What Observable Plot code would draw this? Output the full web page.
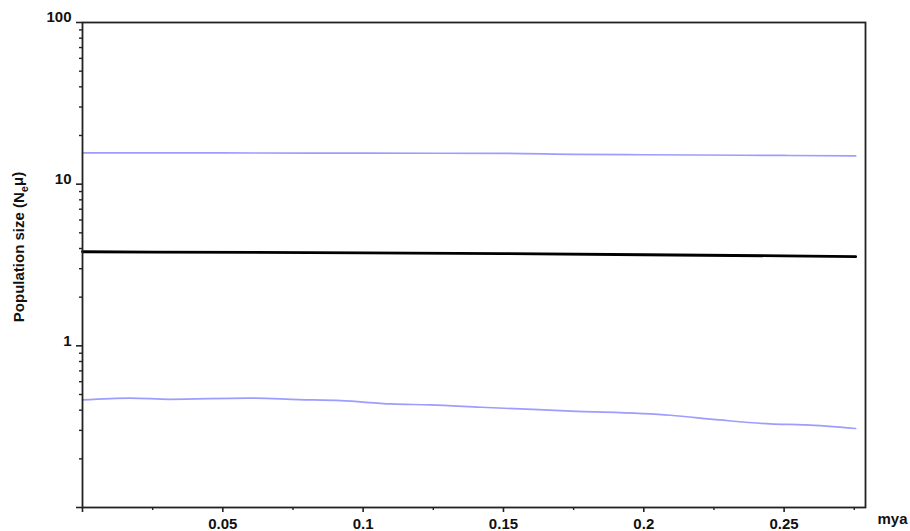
<!DOCTYPE html>
<html>
<head>
<meta charset="utf-8">
<script src="https://cdn.jsdelivr.net/npm/d3@7"></script>
<script src="https://cdn.jsdelivr.net/npm/@observablehq/plot@0.6"></script>
<style>
  html, body { margin: 0; padding: 0; background: #fff; }
  #chart svg { display: block; }
  #chart svg text { font-family: 'Liberation Sans', Arial, sans-serif !important; font-size: 15px !important; font-weight: bold !important; fill: #111; }
  #chart svg text tspan.sub { font-size: 11px !important; }
</style>
</head>
<body>
<div id="chart"></div>
<script>
// Upper 95% bound (blue)
const upperX = [0, 0.05, 0.1, 0.15, 0.175, 0.2, 0.25, 0.2755];
const upperY = [15.6, 15.6, 15.55, 15.5, 15.3, 15.2, 15.05, 14.95];
// Median (black)
const medianX = [0, 0.025, 0.1, 0.15, 0.2, 0.25, 0.2755];
const medianY = [3.82, 3.8, 3.76, 3.72, 3.66, 3.6, 3.56];
// Lower 95% bound (blue)
const lowerX = [0, 0.017, 0.031, 0.059, 0.077, 0.092, 0.11, 0.124, 0.142, 0.174, 0.2095, 0.227, 0.245, 0.2575, 0.2755];
const lowerY = [0.463, 0.475, 0.467, 0.475, 0.465, 0.458, 0.437, 0.431, 0.417, 0.395, 0.372, 0.348, 0.329, 0.324, 0.308];

// Tick values
const xMajorTicks = [0, 0.05, 0.1, 0.15, 0.2, 0.25];
const xMinorTicks = [0.025, 0.075, 0.125, 0.175, 0.225, 0.275];
const yMajorTicks = [0.1, 1, 10, 100];
const yLabelTicks = [1, 10, 100];
const yMinorMultipliers = [2, 3, 4, 5, 6, 7, 8, 9];
const yMinorTicks = [0.1, 1, 10].flatMap(d => yMinorMultipliers.map(m => +(d * m).toPrecision(3)));

const blue = "#9d9dff";
const axisColor = "#222";

const series = (xs, ys) => ys.map((v, i) => ({x: xs[i], y: v}));

const plot = Plot.plot({
  width: 910,
  height: 531,
  marginLeft: 82,
  marginRight: 45,
  marginTop: 22,
  marginBottom: 24,
  style: {background: "#fff"},
  x: {domain: [0, 0.279], axis: null},
  y: {type: "log", domain: [0.1, 100], axis: null},
  marks: [
    Plot.line(series(upperX, upperY), {x: "x", y: "y", stroke: blue, strokeWidth: 1.7, curve: "monotone-x"}),
    Plot.line(series(lowerX, lowerY), {x: "x", y: "y", stroke: blue, strokeWidth: 1.7, curve: "monotone-x"}),
    Plot.line(series(medianX, medianY), {x: "x", y: "y", stroke: "#000", strokeWidth: 2.8}),
    Plot.frame({stroke: axisColor, strokeWidth: 1.8}),
    // y ticks
    Plot.axisY(yMajorTicks, {anchor: "left", tickSize: 6, stroke: axisColor, strokeWidth: 1.6, text: null, label: null}),
    Plot.axisY(yMinorTicks, {anchor: "left", tickSize: 3, stroke: axisColor, strokeWidth: 1.4, text: null, label: null}),
    // y labels (slightly raised, as in the original)
    Plot.axisY(yLabelTicks, {anchor: "left", tickSize: 0, tickPadding: 11, dy: -5, tickFormat: d => String(d), label: null}),
    // x ticks and labels
    Plot.axisX(xMajorTicks, {anchor: "bottom", tickSize: 5, tickPadding: 6, stroke: axisColor, strokeWidth: 1.6,
      tickFormat: d => d === 0 ? "" : String(d), label: null}),
    Plot.axisX(xMinorTicks, {anchor: "bottom", tickSize: 3, stroke: axisColor, strokeWidth: 1.4,
      text: null, label: null}),
    Plot.text(["mya"], {frameAnchor: "bottom-right", dx: 27, dy: 16, textAnchor: "middle"}),
    Plot.text(["Population size (Neμ)"], {frameAnchor: "left", dx: -63, dy: -18, rotate: -90,
      textAnchor: "middle", className: "ylabel"})
  ]
});

document.getElementById("chart").appendChild(plot);

// Add subscript "e" to the y label
d3.select(plot).selectAll("g.ylabel text").each(function() {
  const t = d3.select(this);
  t.text(null);
  t.append("tspan").text("Population size (N");
  t.append("tspan").attr("class", "sub").attr("dy", "0.3em").text("e");
  t.append("tspan").attr("dy", "-0.3em").text("μ)");
});
</script>
</body>
</html>
